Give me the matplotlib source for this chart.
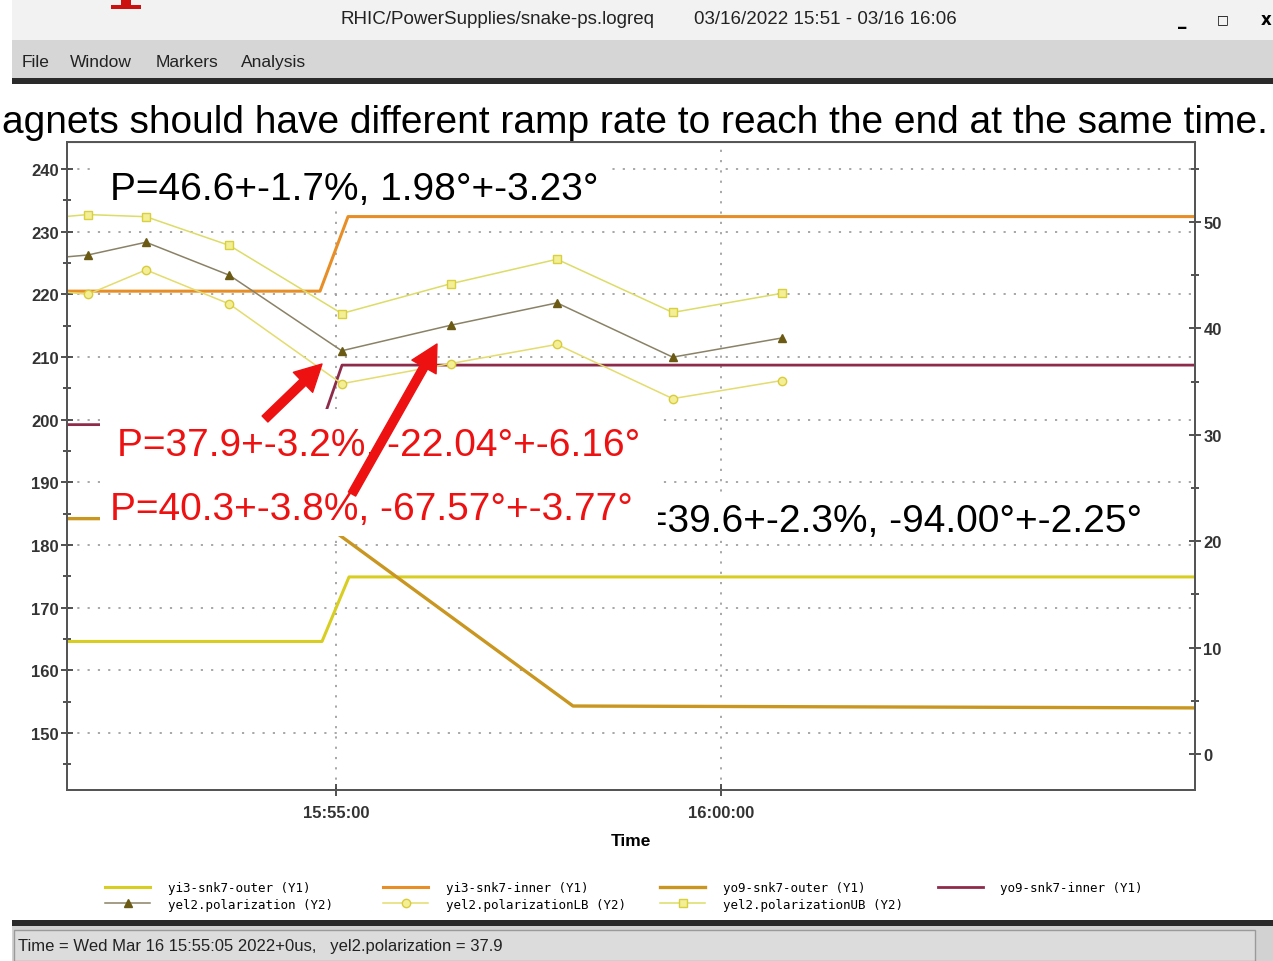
import matplotlib.pyplot as plt
from matplotlib.patches import Rectangle, FancyArrowPatch
from matplotlib.font_manager import FontProperties

W, H = 1273, 962

# time axis: minutes after 15:50:00
t_lim = (1.506, 16.156)
xtick_pos = [5, 10]
xtick_labels = ["15:55:00", "16:00:00"]

# magnet currents (Y1)
yi3_outer_t = [1.506, 4.818, 5.169, 16.156]
yi3_outer_v = [164.6, 164.6, 174.9, 174.9]
yi3_inner_t = [1.506, 4.792, 5.156, 16.156]
yi3_inner_v = [220.5, 220.5, 232.4, 232.4]
yo9_outer_t = [1.506, 4.753, 8.078, 16.156]
yo9_outer_v = [184.2, 184.2, 154.3, 154.0]
yo9_inner_t = [1.506, 4.810, 5.078, 16.156]
yo9_inner_v = [199.2, 199.2, 208.7, 208.7]

# polarization measurements (Y2)
pol_t = [0.35, 1.777, 2.532, 3.614, 5.074, 6.490, 7.870, 9.373, 10.788]
pol = [46.0, 46.9, 48.1, 45.0, 37.9, 40.3, 42.4, 37.3, 39.1]
pol_ub = [49.8, 50.7, 50.5, 47.8, 41.4, 44.2, 46.5, 41.5, 43.3]
pol_lb = [44.2, 43.2, 45.5, 42.3, 34.8, 36.7, 38.5, 33.4, 35.1]


def fx(x):
    return x / W


def fy(y):
    return 1 - y / H


def rect(x0, y0, x1, y1, color, z, ec='none', lw=0):
    fig.add_artist(Rectangle((fx(x0), fy(y1)), fx(x1) - fx(x0), fy(y0) - fy(y1),
                             transform=fig.transFigure, facecolor=color,
                             edgecolor=ec, linewidth=lw, zorder=z))


sans = ['Liberation Sans', 'DejaVu Sans']

fig = plt.figure(figsize=(W / 100, H / 100), dpi=100)
fig.patch.set_facecolor('white')

# window chrome
rect(12, 0, W, 41, '#f2f2f2', -10)
rect(12, 41, W, 80, '#d6d6d6', -10)
rect(12, 79, W, 85, '#2a2a2a', -10)
rect(12, 921, W, 927, '#2a2a2a', -10)
rect(12, 927, W, H, '#d2d2d2', -10)
rect(14, 931, 1255, H, '#dcdcdc', -9, ec='#9a9a9a', lw=1)
# bottom of a red letter from the slide title above the screenshot
rect(121, 0, 131, 7, '#cc1111', -8)
rect(111, 6, 141, 10, '#cc1111', -8)

fig.text(fx(340), fy(20), 'RHIC/PowerSupplies/snake-ps.logreq', family=sans,
         fontsize=13.5, va='center', color='#222')
fig.text(fx(694), fy(20), '03/16/2022 15:51 - 03/16 16:06', family=sans,
         fontsize=13.5, va='center', color='#222')
fig.text(fx(1182), fy(20), '_', fontsize=12, ha='center', va='center', weight='bold')
fig.text(fx(1223), fy(20), '\u25a1', fontsize=9, ha='center', va='center', weight='bold')
fig.text(fx(1266), fy(20), 'x', fontsize=12, ha='center', va='center', weight='bold')
for word, x in [('File', 22), ('Window', 70), ('Markers', 156), ('Analysis', 241)]:
    fig.text(fx(x), fy(67), word, family=sans, fontsize=12.5, va='baseline', color='#222')
fig.text(fx(1268), fy(133), 'agnets should have different ramp rate to reach the end at the same time.',
         family=sans, fontsize=28, ha='right', va='baseline')
fig.text(fx(18), fy(947), 'Time = Wed Mar 16 15:55:05 2022+0us,   yel2.polarization = 37.9',
         family=sans, fontsize=12, va='center', color='#222')

# plot
ax = fig.add_axes([fx(67), fy(791), fx(1195) - fx(67), fy(143) - fy(791)])
ax.set_xlim(t_lim)
ax.set_ylim(140.9, 244.3)
ax2 = ax.twinx()
ax2.set_ylim(-3.38, 57.52)

c_outer, c_inner = '#d8ce22', '#e88e26'
c_yo_outer, c_yo_inner = '#c99620', '#8e2a4a'
l1, = ax.plot(yi3_outer_t, yi3_outer_v, color=c_outer, lw=2.2)
l2, = ax.plot(yi3_inner_t, yi3_inner_v, color=c_inner, lw=2.2)
l3, = ax.plot(yo9_outer_t, yo9_outer_v, color=c_yo_outer, lw=2.4)
l4, = ax.plot(yo9_inner_t, yo9_inner_v, color=c_yo_inner, lw=2.0)

l5, = ax2.plot(pol_t, pol, color='#8a8266', lw=1.1, marker='^', ms=6,
               mfc='#6b5a14', mec='#6b5a14')
l6, = ax2.plot(pol_t, pol_lb, color='#e4dc6c', lw=1.1, marker='o', ms=6,
               mfc='#f4ee96', mec='#d8cc3c')
l7, = ax2.plot(pol_t, pol_ub, color='#dcdc66', lw=1.1, marker='s', ms=6,
               mfc='#f4ee96', mec='#d8d03c')

ax.set_xticks(xtick_pos)
ax.set_xticklabels(xtick_labels)
ax.set_yticks(range(150, 241, 10))
ax.set_yticks(range(145, 245, 5), minor=True)
ax2.set_yticks(range(0, 51, 10))
ax2.set_yticks(range(0, 56, 5), minor=True)
for a in (ax, ax2):
    a.tick_params(which='both', direction='inout', colors='#333', width=1.2, labelsize=12)
    a.tick_params(which='major', length=8)
    a.tick_params(which='minor', length=6)
    for lab in a.get_xticklabels() + a.get_yticklabels():
        lab.set_fontweight('bold')
        lab.set_family(sans)
    for s in a.spines.values():
        s.set_color('#555')
        s.set_linewidth(1.4)
ax.tick_params(axis='y', pad=2)
ax2.tick_params(axis='y', pad=2)
ax.tick_params(axis='x', pad=7)
ax.spines['top'].set_linewidth(0.8)
ax.grid(True, which='major', color='#a0a0a0', linestyle=(0, (1.2, 4.5)), linewidth=1.3)
ax.set_xlabel('Time', fontsize=12.5, fontweight='bold', family=sans, labelpad=9)

# white note boxes pasted on top
rect(97, 145, 610, 208, 'white', 10)
rect(612, 493, 1150, 541, 'white', 10)
rect(100, 410, 658, 537, 'white', 12)
fig.text(fx(110), fy(200), 'P=46.6+-1.7%, 1.98\u00b0+-3.23\u00b0', family=sans,
         fontsize=28, va='baseline', zorder=11)
fig.text(fx(619), fy(532), 'P=39.6+-2.3%, -94.00\u00b0+-2.25\u00b0', family=sans,
         fontsize=28, va='baseline', zorder=11)
fig.text(fx(117), fy(456), 'P=37.9+-3.2%, -22.04\u00b0+-6.16\u00b0', family=sans,
         fontsize=28, va='baseline', color='#ee1111', zorder=13)
fig.text(fx(110), fy(520), 'P=40.3+-3.8%, -67.57\u00b0+-3.77\u00b0', family=sans,
         fontsize=28, va='baseline', color='#ee1111', zorder=13)

for (x0, y0), (x1, y1) in [((265, 420), (322, 365)), ((352, 495), (437, 345))]:
    fig.add_artist(FancyArrowPatch((fx(x0), fy(y0)), (fx(x1), fy(y1)),
                                   transform=fig.transFigure,
                                   arrowstyle='simple,head_length=19,head_width=20,tail_width=6',
                                   color='#ee1111', shrinkA=0, shrinkB=0, zorder=14))

# legend, one block per column
mono = FontProperties(family='DejaVu Sans Mono', size=9)
cols = [([l1, l5], ['yi3-snk7-outer (Y1)', 'yel2.polarization (Y2)'], 105),
        ([l2, l6], ['yi3-snk7-inner (Y1)', 'yel2.polarizationLB (Y2)'], 383),
        ([l3, l7], ['yo9-snk7-outer (Y1)', 'yel2.polarizationUB (Y2)'], 660),
        ([l4], ['yo9-snk7-inner (Y1)'], 938)]
for hs, labs, x in cols:
    fig.legend(hs, labs, loc='upper left', bbox_to_anchor=(fx(x), fy(882)),
               frameon=False, borderpad=0, borderaxespad=0, prop=mono,
               handlelength=3.6, handletextpad=1.4, labelspacing=0.3)

fig.savefig('out.png', dpi=100)
